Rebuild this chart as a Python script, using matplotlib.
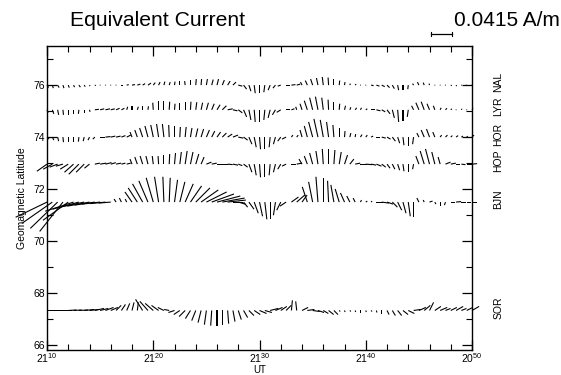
import numpy as np
import matplotlib
matplotlib.use('Agg')
import matplotlib.pyplot as plt
from matplotlib.lines import Line2D

plt.rcParams['font.family'] = ['Liberation Sans', 'DejaVu Sans']

# minutes after 21:10 UT, one stick every 30 s
t_min = np.arange(81) * 0.5

x_ticks = [0, 10, 20, 30, 40]
x_labels = [r'21$^{\mathregular{10}}$', r'21$^{\mathregular{20}}$', r'21$^{\mathregular{30}}$',
            r'21$^{\mathregular{40}}$', r'20$^{\mathregular{50}}$']

stations = ['NAL', 'LYR', 'HOR', 'HOP', 'BJN', 'SOR']
station_lat = [76.0, 75.05, 74.0, 72.96, 71.5, 67.33]

# equivalent current in mA/m (x: along the time axis, y: northward)
nal_x = [3, 2, 3, 2, 2, 2, 3, 2, 1,
         2, 1, 0, 2, 1, 3, 4, 6,
         6, 5, 6, 4, 3, 2, 2, 1, 0, -1,
         0, 1, 1, 2, 3, 3, 4, 5, 6,
         8, 6, 4, 2, 0, -2, -4, -5, -6,
         8, 8, 7,
         -3, -4, -4, -3, -2, -1, 0, 1, 1,
         1, 2, 1, 2,
         5, 6, 6, 5, 4,
         2, 0, -1,
         -2, -3, -2, -1,
         1, 0, 1, 2, 1, 0, 1, 1]
nal_y = [-5, -6, -5, -6, -5, -4, -4, -3, -2,
         -1, 0, 1, 0, -1, 0, 1, 1,
         2, 3, 4, 5, 6, 7, 6, 7, 8, 8,
         10, 12, 12, 12, 11, 12, 10, 8, 6,
         -2, -8, -12, -16, -16, -14, -10, -6, -2,
         0, 1, 2,
         6, 9, 12, 14, 16, 15, 12, 9, 6,
         3, 2, 1, 0,
         -1, -2, -3, -5, -7,
         -10, -10, -8,
         3, 6, 5, 3,
         1, -1, 0, -1, -2, -1, 0, -1]

lyr_x = [2, 3, 2, 1, 0, 0, -1, 0, 1,
         8, 8, 9, 8, 7, 6,
         2, 0, 2, 0, 1,
         -1, 0, 0, 1,
         1, 0, 0, 1, 2, 3, 4, 5, 6, 8,
         10, 9, 8,
         6, 4, 2, 0, -2, -4, -6, -8,
         8, 6, -2,
         -4, -6, -6, -5, -3, -1, 0, 1, 2,
         2, 3, 2, 3,
         8, 8, 7, 6,
         4, 2, 0, -2,
         -4, -6, -6, -5, -3,
         2, 3, 2, 1,
         1, 1, 2]
lyr_y = [-6, -8, -10, -10, -10, -9, -8, -6, -4,
         1, 2, 2, 2, 3, 3,
         6, 8, 6, 8, 7,
         14, 18, 18, 16,
         12, 14, 16, 16, 15, 14, 14, 12, 10, 8,
         2, -2, -6,
         -14, -20, -24, -24, -20, -16, -10, -5,
         0, 2, 6,
         12, 18, 24, 26, 24, 20, 16, 12, 8,
         5, 4, 4, 2,
         0, -2, -4, -8,
         -16, -24, -22, -14,
         8, 14, 16, 12, 8,
         4, 3, 2, 1,
         2, 1, 3]

hor_x = [4, 3, 2, 1, 0, 0, -1, -2, -3, -4,
         10, 10, 9, 9, 8, 8,
         -4, -5, -6, -6, -5, -4, -3, -1, 0, 1, 2, 3, 4, 5, 6, 6, 7, 8, 9, 10,
         10, 8,
         6, 4, 2, 0, -2, -4, -6, -8,
         3, 3,
         -4, -6, -8, -8, -6, -4, -2, 0, 1, 2,
         1, 3, 3, 4,
         8, 8, 7,
         6, 4, 2, 0, -2,
         -4, -6, -6, -4,
         3, 4, 3, 4, 3, 2, 4]
hor_y = [-4, -6, -8, -10, -10, -10, -9, -8, -6, -4,
         0, 1, 2, 2, 3, 4,
         10, 14, 18, 22, 24, 26, 26, 24, 22, 20, 20, 18, 17, 16, 14, 12, 10, 8, 6, 4,
         -2, -6,
         -14, -20, -24, -24, -20, -14, -8, -4,
         4, 4,
         14, 22, 30, 36, 34, 30, 24, 18, 12, 8,
         6, 5, 4, 2,
         0, -2, -4,
         -8, -12, -16, -18, -14,
         8, 14, 16, 10,
         4, 4, 3, 3, 2, 2, 4]

hop_x = [-20, -18, -16, -14, -16, -18, -20, -16, -10,
         10, 12, 12, 10, 10, 8, 8,
         -4, -5, -5, -4, -2, -1, 0, 1, 2, 3, 4, 5, 6, 6,
         10, 10, 12, 12, 10, 10, 8, 8,
         6, 4, 2, 0, -2, -4, -6, -8,
         10, 10,
         -6, -6, -6, -4, -2, 0, 2, 4, 6, 8,
         10, 12, 12, 10, 10,
         8, 6, 5, 4, 2, 0, -2,
         -6, -8, -8, -6, -4,
         10, 10, 8, 8, 10, 10]
hop_y = [-14, -10, -6, -4, -10, -16, -20, -16, -8,
         2, 2, 3, 3, 2, 2, 2,
         10, 14, 16, 16, 16, 16, 18, 20, 22, 24, 26, 24, 20, 14,
         4, 2, 0, 0, -1, -2, -3, -6,
         -16, -22, -26, -26, -22, -16, -10, -4,
         0, 2,
         10, 16, 22, 26, 30, 30, 28, 24, 18, 10,
         2, 0, -1, -2, -4,
         -6, -8, -10, -12, -14, -16, -10,
         16, 26, 30, 24, 14,
         4, 2, 0, -1, 0, 1]

bjn_x = [-62, -60, -54, -46, -50,
         -56, -52, -48, -44, -40, -36, -30, -24,
         -4, -4, -3,
         -14, -18, -20, -18, -14, -8, -2, 2, 6, 10, 16, 22, 28, 34, 40, 44, 46, 44, 36,
         20, 14, 8,
         10, 8, 6, 4, 0, -4, -8, -12,
         14, 16, 10,
         -10, -8, -4, 0, -2, -6, -8, -8, -6, -4,
         2, 3, 2,
         14, 14, 12,
         10, 8, 6, 4, 0,
         -4, -2, 6,
         2, 0, -2,
         8, 10, 10, 8, 10]
bjn_y = [-30, -42, -52, -58, -36,
         -18, -14, -10, -8, -6, -4, -3, -2,
         6, 8, 6,
         20, 28, 36, 42, 48, 50, 50, 48, 44, 40, 36, 32, 28, 24, 20, 16, 12, 8, 4,
         0, -4, -10,
         -14, -22, -28, -34, -34, -26, -16, -8,
         10, 14, 14,
         30, 40, 50, 48, 42, 34, 26, 18, 12, 8,
         4, 2, 2,
         0, -2, -4,
         -10, -16, -22, -28, -30,
         8, 4, 2,
         -4, -8, -6,
         0, 1, 0, 0, 0]

sor_x = [14, 16, 16, 18, 16, 16, 18, 20,
         18, 18, 16, 16, 14,
         10, 8, 6, 4, 2,
         -14, -16, -16, -14, -12, -10,
         -12, -12, -12, -10, -8, -6, -4, -2, 0, 0, 2, 4, 6, 8, 10, 12, 14, 14,
         16, 14, 12, 10,
         2, -2,
         12, 14, 14, 12, 10, 10, 8,
         2, 1, 2, 1, 0, 1, 2, 1, 0,
         4, 6, 8, 10, 12,
         14, 14, 12, 8,
         12, 14, 10, 12, 14, 10, 12, 14]
sor_y = [0, 0, 0, 0, 1, 1, 1, 2,
         2, 4, 4, 6, 6,
         10, 12, 14, 16, 16,
         22, 18, 14, 10, 6, 2,
         -4, -8, -12, -16, -20, -24, -28, -30, -30, -28, -26, -22, -18, -14, -10, -8, -6, -4,
         4, 6, 8, 10,
         20, 18,
         6, 2, -2, -4, -6, -8, -8,
         -2, -3, -2, -3, -4, -3, -2, -4, -6,
         -8, -10, -10, -8, -6,
         2, 6, 10, 16,
         8, 6, 4, 6, 8, 4, 6, 8]

comp_x = [nal_x, lyr_x, hor_x, hop_x, bjn_x, sor_x]
comp_y = [nal_y, lyr_y, hor_y, hop_y, bjn_y, sor_y]

scale_val = 0.0415   # A/m
scale_px = 21        # length of the scale bar in pixels
per_dot = scale_val / scale_px

W, H, DPI = 5.61, 3.75, 100
fig = plt.figure(figsize=(W, H), dpi=DPI)
ax = fig.add_axes([0.0838, 0.066, 0.7576, 0.811])

for name, lat, jx, jy in zip(stations, station_lat, comp_x, comp_y):
    u = np.array(jx) / 1000.0
    v = np.array(jy) / 1000.0
    ax.quiver(t_min, np.full(len(t_min), lat), u, v, angles='uv',
              scale_units='dots', scale=per_dot, units='dots', width=1.1,
              headwidth=0, headlength=0, headaxislength=0, pivot='tail',
              color='black', clip_on=False)
    ax.text(1.062, lat + 0.12, name, transform=ax.get_yaxis_transform(),
            rotation=90, ha='center', va='center', fontsize=7.5)

ax.set_xlim(0, 40)
ax.set_ylim(65.8, 77.5)
ax.set_xticks(x_ticks)
ax.set_xticklabels(x_labels)
ax.set_xticks(np.arange(0, 41, 2), minor=True)
ax.set_yticks(np.arange(66, 77, 2))
ax.set_yticks(np.arange(67, 78, 2), minor=True)
ax.tick_params(which='both', direction='in', top=True, right=True, labelsize=7.5)
ax.tick_params(which='major', length=7, width=0.9)
ax.tick_params(which='minor', length=4, width=0.8)
ax.tick_params(axis='y', pad=1.5)
ax.tick_params(axis='x', pad=1)
for sp in ax.spines.values():
    sp.set_linewidth(1.0)

ax.set_xlabel('UT', fontsize=7, labelpad=-0.5)
ax.set_ylabel('Geomagnetic Latitude', fontsize=7.5)
ax.yaxis.set_label_coords(-0.047, 0.5)

fig.text(0.125, 0.932, 'Equivalent Current', fontsize=15.2, va='baseline')
fig.text(0.809, 0.932, '0.0415 A/m', fontsize=15, va='baseline')

# scale bar: length of 0.0415 A/m at the stick scale
bx, by = 0.787, 0.91
half = scale_val / per_dot / 2 / (W * DPI)
cap = 0.006
fig.add_artist(Line2D([bx - half, bx + half], [by, by], color='black', lw=0.9,
                      transform=fig.transFigure))
for xc in (bx - half, bx + half):
    fig.add_artist(Line2D([xc, xc], [by - cap, by + cap], color='black',
                          lw=0.8, transform=fig.transFigure))

fig.savefig('out.png', dpi=DPI)
